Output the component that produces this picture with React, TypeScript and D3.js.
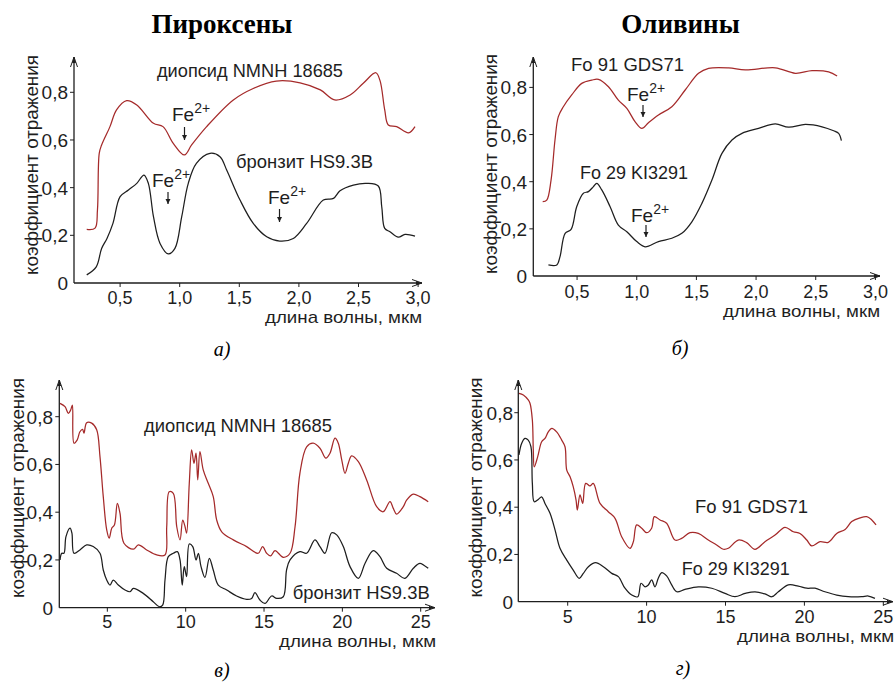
import React from "react";
import * as d3 from "d3";

type Pt = [number, number];

// пироксены, видимый и ближний ИК (мкм, коэффициент отражения)
const diopsideVis: Pt[] = [
  [0.22, 0.225], [0.29, 0.23], [0.31, 0.306], [0.325, 0.544], [0.345, 0.579], [0.415, 0.656],
  [0.47, 0.726], [0.555, 0.765], [0.64, 0.747], [0.78, 0.67], [0.86, 0.656], [0.946, 0.586],
  [1.04, 0.537], [1.1, 0.579], [1.226, 0.656], [1.45, 0.768], [1.617, 0.816], [1.81, 0.847],
  [2.01, 0.84], [2.18, 0.81], [2.3, 0.768], [2.43, 0.789], [2.54, 0.838], [2.645, 0.882],
  [2.68, 0.85], [2.72, 0.726], [2.75, 0.663], [2.82, 0.656], [2.92, 0.63], [2.974, 0.656],
];
const bronziteVis: Pt[] = [
  [0.22, 0.034], [0.3, 0.068], [0.345, 0.145], [0.39, 0.187], [0.44, 0.25], [0.5, 0.362],
  [0.57, 0.39], [0.64, 0.418], [0.7, 0.453], [0.737, 0.418], [0.78, 0.278], [0.835, 0.166],
  [0.905, 0.122], [0.96, 0.145], [1.017, 0.278], [1.072, 0.418], [1.14, 0.502], [1.254, 0.544],
  [1.338, 0.53], [1.394, 0.474], [1.506, 0.348], [1.617, 0.25], [1.73, 0.194], [1.84, 0.176],
  [1.953, 0.187], [2.065, 0.25], [2.205, 0.348], [2.29, 0.355], [2.345, 0.387], [2.457, 0.411],
  [2.57, 0.418], [2.666, 0.407], [2.695, 0.32], [2.72, 0.229], [2.764, 0.215], [2.834, 0.192],
  [2.89, 0.204], [2.974, 0.197],
];

// оливины, видимый и ближний ИК
const fo91Vis: Pt[] = [
  [0.212, 0.315], [0.246, 0.322], [0.282, 0.407], [0.315, 0.577], [0.343, 0.676], [0.385, 0.718],
  [0.455, 0.768], [0.539, 0.817], [0.623, 0.831], [0.679, 0.834], [0.763, 0.803], [0.846, 0.746],
  [0.917, 0.711], [0.987, 0.654], [1.043, 0.626], [1.098, 0.65], [1.182, 0.683], [1.294, 0.718],
  [1.406, 0.789], [1.518, 0.86], [1.602, 0.881], [1.77, 0.883], [1.91, 0.874], [2.161, 0.883],
  [2.329, 0.86], [2.469, 0.871], [2.608, 0.866], [2.679, 0.848],
];
const fo29Vis: Pt[] = [
  [0.26, 0.047], [0.33, 0.047], [0.357, 0.082], [0.4, 0.181], [0.45, 0.198], [0.497, 0.294],
  [0.553, 0.351], [0.595, 0.358], [0.637, 0.379], [0.665, 0.393], [0.707, 0.365], [0.777, 0.294],
  [0.846, 0.216], [0.917, 0.188], [1.0, 0.146], [1.07, 0.124], [1.182, 0.146], [1.294, 0.16],
  [1.378, 0.181], [1.462, 0.23], [1.546, 0.308], [1.63, 0.407], [1.714, 0.52], [1.798, 0.577],
  [1.882, 0.605], [2.021, 0.626], [2.161, 0.645], [2.273, 0.631], [2.413, 0.643], [2.553, 0.633],
  [2.65, 0.616], [2.692, 0.605], [2.715, 0.574],
];

// пироксены, средний ИК
const diopsideIR: Pt[] = [
  [1.98, 0.856], [2.3, 0.842], [2.51, 0.814], [2.66, 0.828], [2.77, 0.849], [2.87, 0.689],
  [3.08, 0.703], [3.25, 0.737], [3.42, 0.747], [3.51, 0.731], [3.68, 0.775], [4.0, 0.773],
  [4.32, 0.745], [4.53, 0.633], [4.74, 0.465], [4.96, 0.326], [5.12, 0.291], [5.28, 0.333],
  [5.45, 0.346], [5.64, 0.437], [5.81, 0.395], [6.06, 0.27], [6.66, 0.245], [6.98, 0.263],
  [7.51, 0.242], [8.15, 0.221], [8.68, 0.221], [8.79, 0.339], [8.95, 0.486], [9.21, 0.479],
  [9.43, 0.339], [9.64, 0.284], [9.81, 0.367], [9.96, 0.339], [10.06, 0.312], [10.23, 0.521],
  [10.38, 0.661], [10.53, 0.605], [10.66, 0.647], [10.77, 0.535], [10.91, 0.654], [11.12, 0.577],
  [11.44, 0.521], [11.76, 0.465], [11.98, 0.367], [12.3, 0.318], [13.04, 0.284], [13.89, 0.256],
  [14.63, 0.228], [14.91, 0.256], [15.17, 0.228], [15.42, 0.217], [15.7, 0.239], [16.23, 0.211],
  [16.66, 0.228], [16.98, 0.339], [17.29, 0.563], [17.72, 0.674], [18.14, 0.689], [18.57, 0.668],
  [18.95, 0.626], [19.21, 0.647], [19.53, 0.71], [19.74, 0.689], [19.96, 0.619], [20.17, 0.563],
  [20.38, 0.605], [20.59, 0.636], [21.02, 0.612], [21.55, 0.535], [22.19, 0.423], [22.61, 0.402],
  [23.04, 0.444], [23.25, 0.416], [23.46, 0.392], [23.89, 0.423], [24.1, 0.451], [24.53, 0.476],
  [24.95, 0.465], [25.48, 0.444],
];
const bronziteIR: Pt[] = [
  [1.98, 0.2], [2.09, 0.228], [2.23, 0.228], [2.36, 0.298], [2.62, 0.333], [2.74, 0.312],
  [2.87, 0.228], [3.25, 0.242], [3.68, 0.263], [4.1, 0.256], [4.53, 0.228], [4.74, 0.158],
  [4.96, 0.116], [5.17, 0.095], [5.38, 0.116], [5.7, 0.095], [6.13, 0.074], [6.45, 0.067],
  [6.66, 0.081], [7.29, 0.06], [7.93, 0.025], [8.32, 0.004], [8.53, 0.011], [8.68, 0.116],
  [8.89, 0.214], [9.21, 0.228], [9.47, 0.235], [9.64, 0.2], [9.78, 0.095], [9.91, 0.172],
  [10.06, 0.13], [10.23, 0.267], [10.45, 0.256], [10.66, 0.2], [10.81, 0.228], [10.98, 0.172],
  [11.23, 0.127], [11.51, 0.207], [11.76, 0.158], [12.08, 0.095], [12.62, 0.074], [13.25, 0.049],
  [13.89, 0.035], [14.21, 0.039], [14.42, 0.063], [14.74, 0.032], [15.06, 0.018], [15.49, 0.049],
  [15.81, 0.039], [16.23, 0.046], [16.44, 0.158], [16.66, 0.2], [17.29, 0.235], [17.72, 0.228],
  [18.25, 0.284], [18.57, 0.256], [18.89, 0.228], [19.32, 0.314], [19.64, 0.305], [20.06, 0.256],
  [20.49, 0.172], [21.02, 0.123], [21.45, 0.186], [21.97, 0.239], [22.4, 0.214], [22.83, 0.165],
  [23.46, 0.144], [23.99, 0.123], [24.53, 0.165], [24.95, 0.186], [25.48, 0.165],
];

// оливины, средний ИК
const fo91IR: Pt[] = [
  [1.91, 0.882], [2.19, 0.875], [2.5, 0.854], [2.61, 0.84], [2.76, 0.769], [2.82, 0.642],
  [2.88, 0.571], [3.1, 0.614], [3.35, 0.677], [3.56, 0.691], [3.77, 0.719], [3.99, 0.734],
  [4.3, 0.719], [4.62, 0.684], [4.83, 0.656], [4.94, 0.557], [5.15, 0.529], [5.35, 0.487],
  [5.53, 0.43], [5.61, 0.388], [5.78, 0.452], [5.95, 0.416], [6.14, 0.501], [6.41, 0.49],
  [6.62, 0.501], [7.05, 0.416], [7.57, 0.381], [8.0, 0.353], [8.42, 0.275], [8.95, 0.226],
  [9.16, 0.254], [9.37, 0.325], [9.69, 0.311], [10.0, 0.292], [10.32, 0.311], [10.49, 0.36],
  [10.85, 0.346], [11.27, 0.332], [11.8, 0.261], [12.22, 0.268], [12.75, 0.292], [13.28, 0.289],
  [13.91, 0.261], [14.44, 0.24], [14.86, 0.222], [15.18, 0.226], [15.81, 0.261], [16.34, 0.25],
  [16.87, 0.222], [17.5, 0.254], [18.14, 0.282], [18.77, 0.315], [19.3, 0.296], [19.72, 0.289],
  [20.15, 0.261], [20.46, 0.236], [20.99, 0.254], [21.51, 0.251], [22.05, 0.289], [22.58, 0.306],
  [23.0, 0.339], [23.53, 0.355], [23.95, 0.36], [24.27, 0.346], [24.54, 0.325],
];
const fo29IR: Pt[] = [
  [1.91, 0.621], [2.08, 0.67], [2.29, 0.691], [2.5, 0.684], [2.67, 0.656], [2.76, 0.501],
  [2.88, 0.423], [3.14, 0.433], [3.35, 0.444], [3.56, 0.416], [3.88, 0.374], [4.2, 0.303],
  [4.51, 0.226], [4.94, 0.176], [5.35, 0.134], [5.73, 0.099], [5.99, 0.12], [6.31, 0.148],
  [6.77, 0.165], [7.26, 0.148], [7.79, 0.12], [8.21, 0.106], [8.63, 0.057], [9.06, 0.028],
  [9.44, 0.021], [9.65, 0.078], [9.9, 0.063], [10.11, 0.071], [10.32, 0.092], [10.53, 0.063],
  [10.74, 0.099], [10.96, 0.123], [11.27, 0.109], [11.59, 0.071], [11.91, 0.042], [12.43, 0.052],
  [13.28, 0.063], [14.13, 0.057], [14.97, 0.035], [15.6, 0.021], [16.24, 0.035], [16.87, 0.042],
  [17.5, 0.033], [17.93, 0.021], [18.35, 0.042], [18.98, 0.071], [19.61, 0.066], [20.15, 0.057],
  [20.67, 0.057], [21.3, 0.042], [22.05, 0.028], [22.78, 0.021], [23.63, 0.021], [24.05, 0.024],
  [24.47, 0.014],
];

const visTicks = [0.5, 1.0, 1.5, 2.0, 2.5, 3.0];
const visTickLabels = ["0,5", "1,0", "1,5", "2,0", "2,5", "3,0"];
const irTicks = [5, 10, 15, 20, 25];
const irTickLabels = ["5", "10", "15", "20", "25"];
const yTicks = [0, 0.2, 0.4, 0.6, 0.8];
const yTickLabels = ["0", "0,2", "0,4", "0,6", "0,8"];

const RED = "#a52a2a";
const INK = "#1e1e1e";
const SANS = "'Liberation Sans', Arial, sans-serif";
const SERIF = "'Liberation Serif', 'Times New Roman', serif";

const panels = [
  {
    // а)
    xDom: 3, xr: [60.5, 418.1], yr: [283, 92.3], ox: 74, top: 57, end: 422,
    ticks: visTicks, tickLabels: visTickLabels, tickBase: 303.5, tlRight: 68,
    title: { right: 422, base: 323 }, yl: { x: 38, y: 165 },
    series: [{ d: diopsideVis, c: RED }, { d: bronziteVis, c: INK }],
    labels: [
      { t: "диопсид NMNH 18685", x: 157, y: 77, w: 186 },
      { t: "бронзит HS9.3B", x: 236, y: 167.5, w: 137 },
    ],
    fe: [
      { x: 172, y: 121, ax: 184.5, a0: 127, a1: 140 },
      { x: 152, y: 186.5, ax: 168, a0: 192, a1: 204 },
      { x: 268, y: 204, ax: 279.5, a0: 209, a1: 222 },
    ],
  },
  {
    // б)
    xDom: 3, xr: [517.4, 875.4], yr: [276, 87.4], ox: 533.3, top: 57, end: 880,
    ticks: visTicks, tickLabels: visTickLabels, tickBase: 297.5, tlRight: 527,
    title: { right: 880, base: 316.5 }, yl: { x: 497, y: 164 },
    series: [{ d: fo91Vis, c: RED }, { d: fo29Vis, c: INK }],
    labels: [
      { t: "Fo 91 GDS71", x: 571, y: 71, w: 113 },
      { t: "Fo 29 KI3291", x: 580, y: 179, w: 108 },
    ],
    fe: [
      { x: 627, y: 101, ax: 643, a0: 105, a1: 117 },
      { x: 631, y: 222, ax: 646, a0: 225, a1: 237 },
    ],
  },
  {
    // в)
    xDom: 25, xr: [29, 420.7], yr: [607.7, 416.7], ox: 59.3, top: 380, end: 435,
    ticks: irTicks, tickLabels: irTickLabels, tickBase: 628, tlRight: 53,
    title: { right: 436, base: 646.5 }, yl: { x: 23.5, y: 488 },
    series: [{ d: diopsideIR, c: RED }, { d: bronziteIR, c: INK }],
    labels: [
      { t: "диопсид NMNH 18685", x: 144, y: 432, w: 188 },
      { t: "бронзит HS9.3B", x: 292.7, y: 598.5, w: 137 },
    ],
    fe: [],
  },
  {
    // г)
    xDom: 25, xr: [488.8, 883.3], yr: [601.7, 412.7], ox: 518.3, top: 380, end: 893,
    ticks: irTicks, tickLabels: irTickLabels, tickBase: 623, tlRight: 513,
    title: { right: 894, base: 642 }, yl: { x: 482.3, y: 487.5 },
    series: [{ d: fo91IR, c: RED }, { d: fo29IR, c: INK }],
    labels: [
      { t: "Fo 91 GDS71", x: 695, y: 513, w: 113 },
      { t: "Fo 29 KI3291", x: 681.7, y: 575, w: 108 },
    ],
    fe: [],
  },
];

function Panel({ p }: { p: (typeof panels)[number] }) {
  const x = d3.scaleLinear().domain([0, p.xDom]).range(p.xr);
  const y = d3.scaleLinear().domain([0, 0.8]).range(p.yr);
  const line = d3
    .line<Pt>()
    .x((d) => x(d[0]))
    .y((d) => y(d[1]))
    .curve(d3.curveCatmullRom.alpha(0.5));
  const base = y(0);
  return (
    <g>
      {p.series.map((s, i) => (
        <path key={i} d={line(s.d) || ""} fill="none" stroke={s.c} strokeWidth={1.25} strokeLinejoin="round" />
      ))}
      {/* оси */}
      <line x1={p.ox} y1={base} x2={p.ox} y2={p.top} stroke={INK} strokeWidth={1.3} />
      <line x1={p.ox} y1={base} x2={p.end} y2={base} stroke={INK} strokeWidth={1.3} />
      <path d={`M${p.ox - 3.5},${p.top + 10}L${p.ox},${p.top}L${p.ox + 3.5},${p.top + 10}`} fill="none" stroke={INK} />
      <path d={`M${p.ox - 2},${p.top + 6}L${p.ox},${p.top + 1}L${p.ox + 2},${p.top + 6}Z`} fill={INK} />
      <path d={`M${p.end - 10},${base - 3.5}L${p.end},${base}L${p.end - 10},${base + 3.5}`} fill="none" stroke={INK} />
      <path d={`M${p.end - 6},${base - 2}L${p.end - 1},${base}L${p.end - 6},${base + 2}Z`} fill={INK} />
      {yTicks.map((t, i) => (
        <g key={i}>
          {i > 0 && <line x1={p.ox - 4} x2={p.ox} y1={y(t)} y2={y(t)} stroke={INK} />}
          <text x={p.tlRight} y={y(t) + 7} textAnchor="end" fontSize={19} fontFamily={SANS} fill={INK}>
            {yTickLabels[i]}
          </text>
        </g>
      ))}
      {p.ticks.map((t, i) => (
        <g key={i}>
          <line x1={x(t)} x2={x(t)} y1={base} y2={base + 4} stroke={INK} />
          <text x={x(t)} y={p.tickBase} textAnchor="middle" fontSize={18} fontFamily={SANS} fill={INK}>
            {p.tickLabels[i]}
          </text>
        </g>
      ))}
      <text x={p.title.right - 157} y={p.title.base} fontSize={17} fontFamily={SANS} fill={INK}
        textLength={157} lengthAdjust="spacingAndGlyphs">
        длина волны, мкм
      </text>
      <text transform={`translate(${p.yl.x},${p.yl.y}) rotate(-90)`} x={-110} y={0} fontSize={19}
        fontFamily={SANS} fill={INK} textLength={220} lengthAdjust="spacingAndGlyphs">
        коэффициент отражения
      </text>
      {p.labels.map((l, i) => (
        <text key={i} x={l.x} y={l.y} fontSize={19} fontFamily={SANS} fill={INK}
          textLength={l.w} lengthAdjust="spacingAndGlyphs">
          {l.t}
        </text>
      ))}
      {p.fe.map((f, i) => (
        <g key={i}>
          <text x={f.x} y={f.y} fontSize={19} fontFamily={SANS} fill={INK}>
            Fe<tspan fontSize={14} dy={-8}>2+</tspan>
          </text>
          <line x1={f.ax} x2={f.ax} y1={f.a0} y2={f.a1} stroke={INK} strokeWidth={1.2} />
          <path d={`M${f.ax - 2.5},${f.a1 - 5}L${f.ax},${f.a1}L${f.ax + 2.5},${f.a1 - 5}Z`} fill={INK} />
        </g>
      ))}
    </g>
  );
}

export default function App() {
  return (
    <svg width={895} height={682} style={{ display: "block", position: "absolute", left: 0, top: 0 }}>
      <rect width={895} height={682} fill="#fff" />
      <text x={222} y={33} textAnchor="middle" fontFamily={SERIF} fontWeight="bold" fontSize={27} fill="#000">
        Пироксены
      </text>
      <text x={680.5} y={33} textAnchor="middle" fontFamily={SERIF} fontWeight="bold" fontSize={27} fill="#000">
        Оливины
      </text>
      {panels.map((p, i) => (
        <Panel key={i} p={p} />
      ))}
      {[
        { t: "а)", x: 222, y: 356 },
        { t: "б)", x: 680, y: 355 },
        { t: "в)", x: 222, y: 677 },
        { t: "г)", x: 683, y: 675 },
      ].map((s, i) => (
        <text key={i} x={s.x} y={s.y} textAnchor="middle" fontFamily={SERIF} fontStyle="italic" fontSize={20} fill="#000">
          {s.t}
        </text>
      ))}
    </svg>
  );
}
